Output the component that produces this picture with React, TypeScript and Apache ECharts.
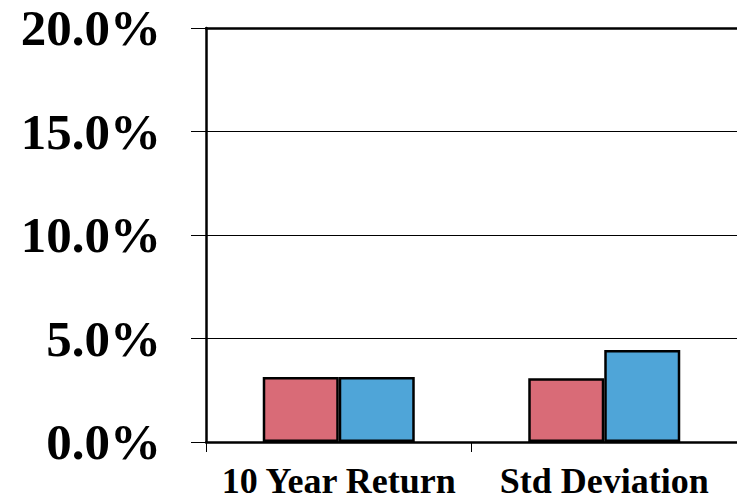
import React, { useEffect, useRef } from "react";
import * as echarts from "echarts";

const categories = ["10 Year Return", "Std Deviation"];
const seriesA = [3.14, 3.08];
const seriesB = [3.14, 4.44];
const yMin = 0;
const yMax = 20;
const yInterval = 5;

export default function App() {
  const ref = useRef<HTMLDivElement>(null);
  useEffect(() => {
    if (!ref.current) return;
    const chart = echarts.init(ref.current, null, { renderer: "svg" });
    const font = "'Liberation Serif', 'Times New Roman', serif";
    chart.setOption({
      animation: false,
      grid: { left: 206, top: 28, width: 532, bottom: 58, containLabel: false },
      xAxis: [
        {
          type: "category",
          data: categories,
          position: "bottom",
          z: 5,
          axisLine: { show: true, lineStyle: { color: "#000", width: 2.5 } },
          axisTick: { show: true, length: 10, lineStyle: { color: "#000", width: 1 } },
          axisLabel: {
            interval: 0,
            hideOverlap: false,
            margin: 21,
            color: "#000",
            fontFamily: font,
            fontWeight: "bold",
            fontSize: 36,
          },
        },
        {
          type: "category",
          data: categories,
          position: "top",
          z: 5,
          axisLine: { show: true, lineStyle: { color: "#000", width: 2.5 } },
          axisTick: { show: false },
          axisLabel: { show: false },
        },
      ],
      yAxis: {
        type: "value",
        min: yMin,
        max: yMax,
        interval: yInterval,
        z: 5,
        axisLine: { show: true, lineStyle: { color: "#000", width: 2.5 } },
        axisTick: { show: true, length: 15, lineStyle: { color: "#000", width: 1 } },
        splitLine: { show: true, lineStyle: { color: "#000", width: 1 } },
        axisLabel: {
          margin: 45,
          color: "#000",
          fontFamily: font,
          fontWeight: "bold",
          fontSize: 51,
          formatter: (v: number) => v.toFixed(1) + "%",
        },
      },
      series: [
        {
          type: "bar",
          data: seriesA,
          barWidth: 76,
          barGap: "0%",
          itemStyle: { color: "#D96B77", borderColor: "#000", borderWidth: 2.5 },
        },
        {
          type: "bar",
          data: seriesB,
          barWidth: 76,
          barGap: "0%",
          itemStyle: { color: "#4FA5D8", borderColor: "#000", borderWidth: 2.5 },
        },
      ],
    });
    return () => chart.dispose();
  }, []);
  return <div ref={ref} style={{ width: 737, height: 500, position: "absolute", left: 0, top: 0 }} />;
}
